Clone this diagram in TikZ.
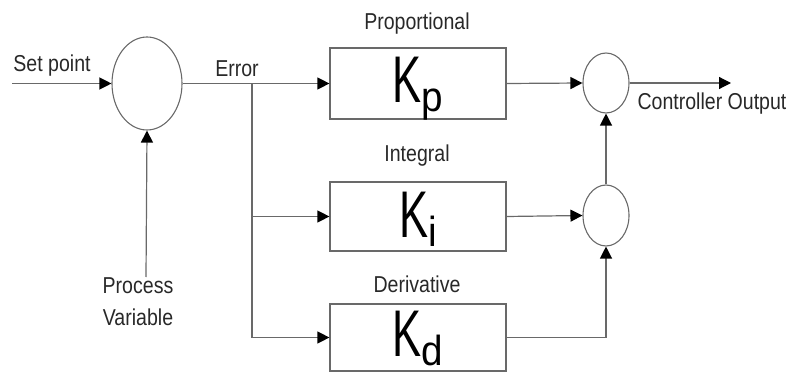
\documentclass[tikz,border=0pt]{standalone}
\usepackage{fontspec}
\setmainfont{Liberation Sans}
\newfontfamily\lblfont[FakeStretch=0.85]{Liberation Sans}
\newfontfamily\kfont[FakeStretch=0.66]{Liberation Sans}
\newfontfamily\subfont[FakeStretch=0.92]{Liberation Sans}
\usetikzlibrary{arrows.meta,shapes.geometric}
\definecolor{linegray}{RGB}{105,105,105}
\definecolor{txtgray}{RGB}{40,40,40}
\newcommand{\gainK}[1]{{\kfont\fontsize{66}{66}\selectfont K}\raisebox{-9pt}{\subfont\fontsize{42}{42}\selectfont #1}}
\tikzset{
  conn/.style={draw=linegray, line width=1.2pt},
  arr/.style={conn, -{Triangle[length=12pt,width=12pt,fill=black,color=black]}},
  gainbox/.style={draw=linegray, line width=1.2pt, rectangle, minimum width=176pt, inner sep=0pt},
  summer/.style={draw=linegray, line width=1.1pt, ellipse, inner sep=0pt},
  lbl/.style={font=\lblfont\fontsize{23}{32}\selectfont, text=txtgray, inner sep=0pt, anchor=base},
  gaintxt/.style={text=black, inner sep=0pt, anchor=base},
}
\begin{document}
\begin{tikzpicture}[x=1pt,y=-1pt]
\useasboundingbox (0,0) rectangle (790,374);
% nodes
\node[summer, minimum width=70pt, minimum height=93pt] (sum) at (147,83.5) {};
\node[gainbox, minimum height=71pt] (kp) at (418,83.5) {};
\node[gainbox, minimum height=69pt] (ki) at (418,216.5) {};
\node[gainbox, minimum height=67pt] (kd) at (418,337.5) {};
\node[summer, minimum width=46pt, minimum height=60pt] (add1) at (606,83) {};
\node[summer, minimum width=46pt, minimum height=61pt] (add2) at (606,215.5) {};
\coordinate (sp) at (12,83.5);
\coordinate (br) at (252,83.5);
\coordinate (pv) at (146,277);
\coordinate (out) at (731,83);
% gain texts
\node[gaintxt] (kptxt) at (418,103) {\gainK{p}};
\node[gaintxt] (kitxt) at (418,238) {\gainK{i}};
\node[gaintxt] (kdtxt) at (418,356) {\gainK{d}};
% labels
\node[lbl] (lsp) at (52,72) {Set point};
\node[lbl] (lerr) at (237,77) {Error};
\node[lbl] (lprop) at (417,30) {Proportional};
\node[lbl] (lint) at (417,162) {Integral};
\node[lbl] (lder) at (417,292) {Derivative};
\node[lbl] (lco) at (712,110) {Controller Output};
\node[lbl, align=center] (lpv) at (138,325) {Process\\Variable};
% connectors
\draw[arr] (sp) -- (sum.west);
\draw[arr] (sum.east) -- (kp.west);
\draw[arr] (br) |- (ki.west);
\draw[arr] (br) |- (kd.west);
\draw[arr] (pv) -- (sum.south);
\draw[arr] (kp.east) -- (add1.west);
\draw[arr] (ki.east) -- (add2.west);
\draw[arr] (kd.east) -| (add2.south);
\draw[arr] (add2.north) -- (add1.south);
\draw[arr] (add1.east) -- (out);
\end{tikzpicture}
\end{document}
